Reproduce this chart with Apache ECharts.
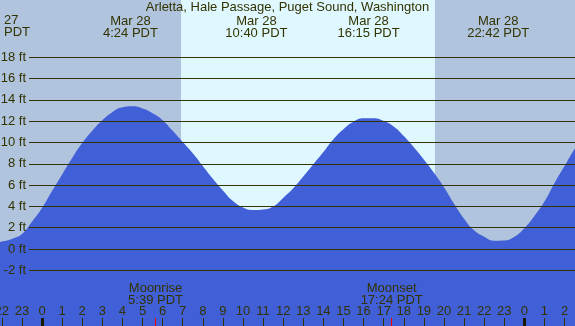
<!DOCTYPE html>
<html>
<head>
<meta charset="utf-8">
<script src="https://cdn.jsdelivr.net/npm/echarts@6/dist/echarts.min.js"></script>
<style>html,body{margin:0;padding:0;background:#b0c4de}#c{width:575px;height:326px}</style>
</head>
<body>
<div id="c"></div>
<script>
// ---- data (hours relative to Mar 28 00:00 PDT, tide height in ft) ----
const hours = [-2.5, -2, -1.5, -1, -0.5, 0, 0.5, 1, 1.5, 2, 2.5, 3, 3.5, 4, 4.5, 5, 5.5, 6, 6.5, 7, 7.5, 8, 8.5, 9, 9.5, 10, 10.5, 11, 11.5, 12, 12.5, 13, 13.5, 14, 14.5, 15, 15.5, 16, 16.5, 17, 17.5, 18, 18.5, 19, 19.5, 20, 20.5, 21, 21.5, 22, 22.5, 23, 23.5, 24, 24.5, 25, 25.5, 26, 26.5, 27];
const tideFt = [0.55, 0.7, 0.95, 1.4, 2.55, 3.85, 5.45, 7.0, 8.55, 9.95, 11.1, 12.1, 12.85, 13.3, 13.4, 13.2, 12.75, 12.1, 11.1, 10.05, 9.0, 7.8, 6.6, 5.5, 4.5, 3.9, 3.67, 3.72, 4.0, 4.8, 5.7, 6.8, 7.95, 9.1, 10.3, 11.25, 11.95, 12.27, 12.28, 12.02, 11.5, 10.6, 9.55, 8.4, 7.15, 5.8, 4.25, 2.85, 1.75, 1.15, 0.78, 0.8, 1.15, 1.95, 3.1, 4.45, 6.2, 7.8, 9.4, 10.8];
const extremeTimes = [4.4, 10.667, 16.25, 22.7];
const extremeLabels = ['Mar 28\n4:24 PDT', 'Mar 28\n10:40 PDT', 'Mar 28\n16:15 PDT', 'Mar 28\n22:42 PDT'];
const leftEdgeLabel = '27\nPDT';
const moonTimes = [5.65, 17.4];
const moonLabels = ['Moonrise\n5:39 PDT', 'Moonset\n17:24 PDT'];
const hourTicks = [-2, -1, 0, 1, 2, 3, 4, 5, 6, 7, 8, 9, 10, 11, 12, 13, 14, 15, 16, 17, 18, 19, 20, 21, 22, 23, 24, 25, 26];
const midnightTicks = [0, 24];
const daylight = [6.92, 19.55];
const levelsFt = [-2, 0, 2, 4, 6, 8, 10, 12, 14, 16, 18];
const titleText = 'Arletta, Hale Passage, Puget Sound, Washington';
const xRange = [-2.09, 26.52];
const yRange = [-7.23, 23.38];

const TXT = '#333300';
const FONT = "'Liberation Sans', Arial, sans-serif";
const FS = 13;

const chart = echarts.init(document.getElementById('c'), null, {renderer: 'canvas'});
const hidden = {show: false};
const baseX = (extra) => Object.assign({
  type: 'value', min: xRange[0], max: xRange[1], gridIndex: 0, z: 4,
  axisLine: {show: false, onZero: false}, splitLine: hidden, axisTick: hidden, axisLabel: hidden
}, extra);

chart.setOption({
  backgroundColor: '#b0c4de',
  animation: false,
  title: {
    text: titleText, left: 'center', top: 0, padding: 0,
    textStyle: {fontFamily: FONT, fontSize: FS, fontWeight: 'normal', color: TXT, lineHeight: 14}
  },
  graphic: [{
    type: 'text', left: 4, top: 14, z: 10,
    style: {text: leftEdgeLabel, fontFamily: FONT, fontSize: FS, fill: TXT, lineHeight: 12}
  }],
  grid: [
    {left: 0, right: 0, top: 0, bottom: 0, outerBoundsMode: 'none', containLabel: false},
    {left: 29, right: 0, top: 0, bottom: 0, outerBoundsMode: 'none', containLabel: false}
  ],
  xAxis: [
    baseX({
      position: 'bottom',
      axisTick: {show: true, inside: true, length: 8, customValues: hourTicks, lineStyle: {color: TXT, width: 1}},
      axisLabel: {show: true, inside: true, margin: 9, customValues: hourTicks, lineHeight: 12, hideOverlap: false,
        showMinLabel: true, showMaxLabel: true,
        fontFamily: FONT, fontSize: FS, color: TXT,
        formatter: v => String(((Math.round(v) % 24) + 24) % 24)}
    }),
    baseX({
      position: 'bottom', z: 5,
      axisTick: {show: true, inside: true, length: 8, customValues: midnightTicks, lineStyle: {color: '#1a1a00', width: 3}}
    }),
    baseX({
      position: 'bottom', z: 5,
      axisTick: {show: true, inside: true, length: 8, customValues: moonTimes, lineStyle: {color: '#ff0000', width: 1}},
      axisLabel: {show: true, inside: true, margin: 20, customValues: moonTimes, lineHeight: 12,
        fontFamily: FONT, fontSize: FS, color: TXT,
        formatter: v => moonLabels[moonTimes.indexOf(v)]}
    }),
    baseX({
      position: 'top',
      axisLabel: {show: true, inside: true, margin: 15, customValues: extremeTimes, lineHeight: 12,
        fontFamily: FONT, fontSize: FS, color: TXT,
        formatter: v => extremeLabels[extremeTimes.indexOf(v)]}
    }),
    Object.assign(baseX({}), {gridIndex: 1})
  ],
  yAxis: [
    {type: 'value', gridIndex: 0, min: yRange[0], max: yRange[1], show: false, splitLine: hidden, axisLine: {show: false, onZero: false}},
    {type: 'value', gridIndex: 1, min: yRange[0], max: yRange[1], show: false, splitLine: hidden, axisLine: {show: false, onZero: false}}
  ],
  series: [
    {
      type: 'line', xAxisIndex: 0, yAxisIndex: 0, data: [], z: 0, silent: true,
      markArea: {
        silent: true,
        itemStyle: {color: '#dff8ff'},
        data: [[{xAxis: daylight[0], yAxis: yRange[1]}, {xAxis: daylight[1], yAxis: yRange[0]}]]
      }
    },
    {
      type: 'line', xAxisIndex: 0, yAxisIndex: 0, z: 2, silent: true,
      data: hours.map((h, i) => [h, tideFt[i]]),
      smooth: true, symbol: 'none',
      lineStyle: {width: 0},
      areaStyle: {color: '#4160d8', opacity: 1, origin: 'start'}
    },
    {
      type: 'line', xAxisIndex: 4, yAxisIndex: 1, z: 5, data: [], silent: true,
      markLine: {
        silent: true, symbol: ['none', 'none'], animation: false,
        lineStyle: {color: TXT, width: 1, type: 'solid'},
        label: {show: true, position: 'start', distance: 3, fontFamily: FONT, fontSize: FS, color: TXT,
          formatter: p => p.value + ' ft'},
        emphasis: {disabled: true},
        data: levelsFt.map(v => ({yAxis: v}))
      }
    }
  ]
});
</script>
</body>
</html>
